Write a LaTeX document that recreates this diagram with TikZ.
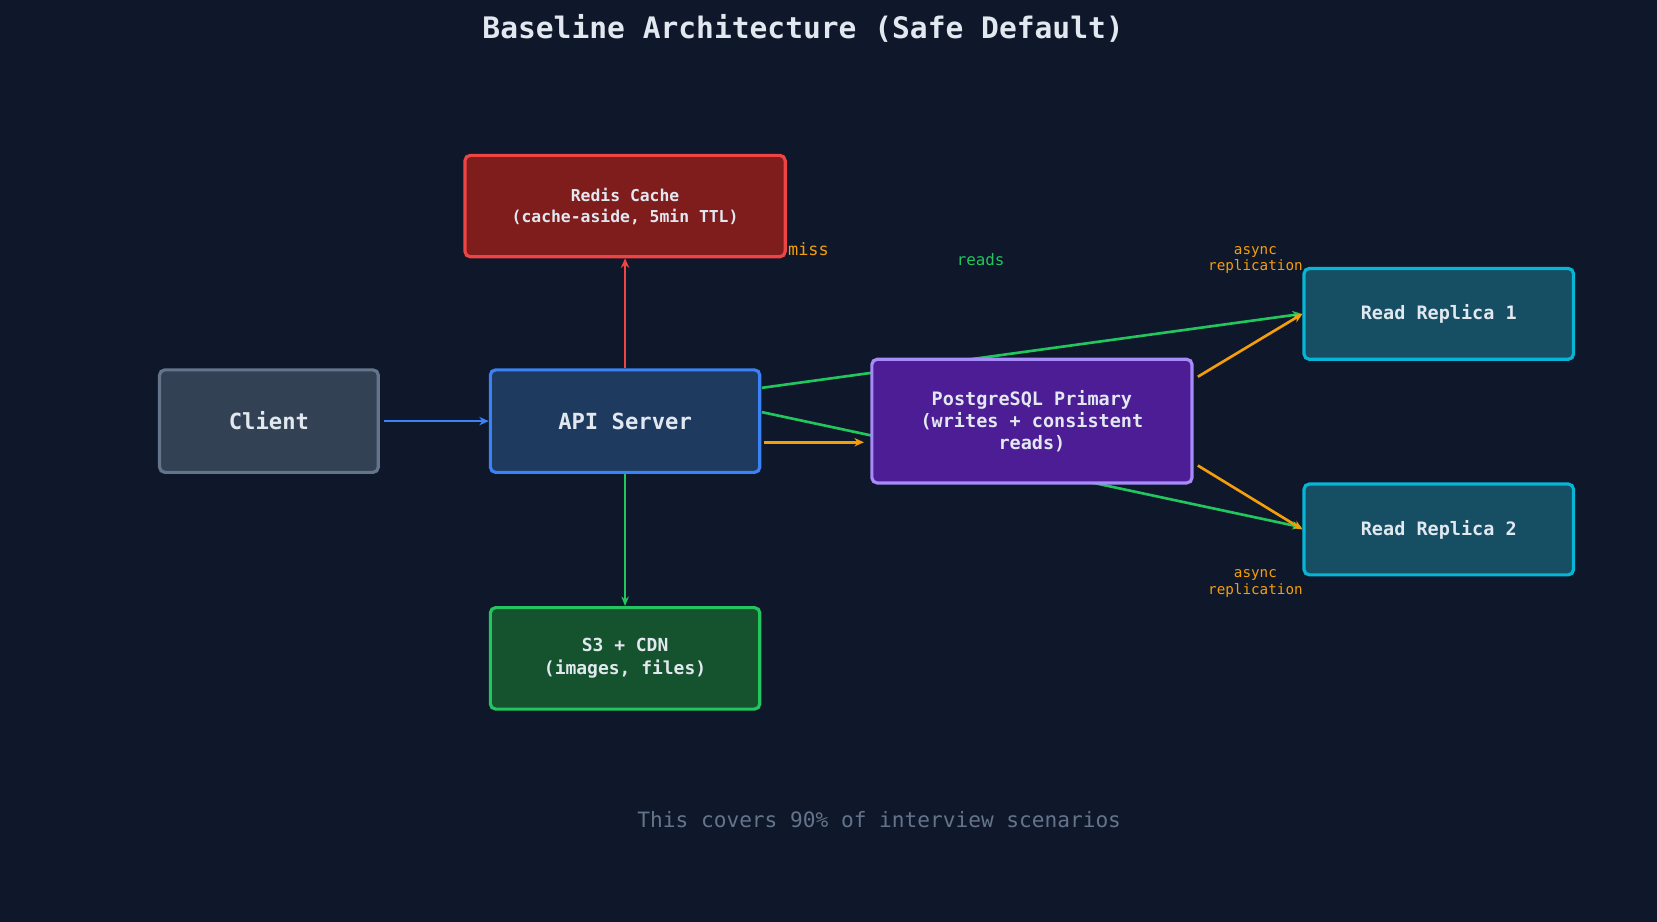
\documentclass[tikz,border=0pt]{standalone}
\usepackage{fontspec}
\setmonofont{DejaVu Sans Mono}
\usetikzlibrary{arrows.meta}
\definecolor{bg}{HTML}{0F172A}
\definecolor{txt}{HTML}{E2E8F0}
\definecolor{gr}{HTML}{22C55E}
\definecolor{og}{HTML}{F59E0B}
\definecolor{c0}{HTML}{334155}\definecolor{c0b}{HTML}{64748B}
\definecolor{c1}{HTML}{1E3A5F}\definecolor{c1b}{HTML}{3B82F6}
\definecolor{c2}{HTML}{7F1D1D}\definecolor{c2b}{HTML}{EF4444}
\definecolor{c3}{HTML}{14532D}
\definecolor{c4}{HTML}{4C1D95}\definecolor{c4b}{HTML}{A78BFA}
\definecolor{c5}{HTML}{164E63}\definecolor{c5b}{HTML}{06B6D4}
\begin{document}
\begin{tikzpicture}[x=1pt,y=-1pt,
  box/.style={draw,line width=3pt,rounded corners=5pt,text=txt,font=\ttfamily\bfseries,align=center,inner sep=0pt},
  arr/.style={-{Stealth[length=9pt,width=8pt]},line width=2.5pt},
  lab/.style={align=center}]
\fill[bg] (0,0) rectangle (1568,872);
\useasboundingbox (0,0) rectangle (1568,872);
\node[font=\ttfamily\bfseries\fontsize{28}{32}\selectfont,text=txt] (title) at (760,27) {Baseline Architecture (Safe Default)};
\coordinate (a1s) at (721,367);
\coordinate (a2s) at (721,390);
\coordinate (r1in) at (1232,297);
\coordinate (r2in) at (1232,499);
\draw[gr,line width=2.5pt,-{Stealth[length=9pt,width=8pt]}] (a1s) -- (r1in);
\draw[gr,line width=2.5pt,-{Stealth[length=9pt,width=8pt]}] (a2s) -- (r2in);
\node[box,fill=c0,draw=c0b,minimum width=207pt,minimum height=97pt,font=\ttfamily\bfseries\fontsize{21}{25}\selectfont] (client) at (254.5,398.5) {Client};
\node[box,fill=c1,draw=c1b,minimum width=255pt,minimum height=97pt,font=\ttfamily\bfseries\fontsize{21}{25}\selectfont] (api) at (591.5,398.5) {API Server};
\node[box,fill=c2,draw=c2b,minimum width=303pt,minimum height=96pt,font=\ttfamily\bfseries\fontsize{15.5}{20}\selectfont] (redis) at (591.5,195) {Redis Cache\\(cache-aside, 5min TTL)};
\node[box,fill=c3,draw=gr,minimum width=255pt,minimum height=96pt,font=\ttfamily\bfseries\fontsize{17}{22}\selectfont] (s3) at (591.5,623) {S3 + CDN\\(images, files)};
\node[box,fill=c4,draw=c4b,minimum width=303pt,minimum height=117pt,font=\ttfamily\bfseries\fontsize{17.5}{21}\selectfont] (pg) at (976.5,398.5) {PostgreSQL Primary\\(writes + consistent\\reads)};
\node[box,fill=c5,draw=c5b,minimum width=255pt,minimum height=86pt,font=\ttfamily\bfseries\fontsize{17.5}{21}\selectfont] (rr1) at (1361.5,297) {Read Replica 1};
\node[box,fill=c5,draw=c5b,minimum width=255pt,minimum height=86pt,font=\ttfamily\bfseries\fontsize{17.5}{21}\selectfont] (rr2) at (1361.5,501) {Read Replica 2};
\draw[arr,c1b] ([xshift=4pt]client.east) -- (api.west);
\draw[arr,c2b] (api.north) -- (redis.south);
\draw[gr,line width=2pt,-{Stealth[length=9pt,width=7pt]}] (api.south) -- (s3.north);
\draw[arr,og] ([shift={(2,20)}]api.east) -- ([shift={(-6,20)}]pg.west);
\draw[arr,og] ([shift={(4,-42)}]pg.east) -- (rr1.west);
\draw[arr,og] ([shift={(4,42)}]pg.east) -- (rr2.west);
\node[lab,text=og,font=\ttfamily\fontsize{16}{18}\selectfont] (miss) at (765,236) {miss};
\node[lab,text=gr,font=\ttfamily\fontsize{15}{18}\selectfont] (reads) at (928,246) {reads};
\node[lab,text=og,font=\ttfamily\fontsize{13.5}{16}\selectfont] (as1) at (1188,246) {async\\replication};
\node[lab,text=og,font=\ttfamily\fontsize{13.5}{16}\selectfont] (as2) at (1188,552) {async\\replication};
\node[text=c0b,font=\ttfamily\fontsize{20}{24}\selectfont] (foot) at (832,776) {This covers 90\% of interview scenarios};
\end{tikzpicture}
\end{document}
